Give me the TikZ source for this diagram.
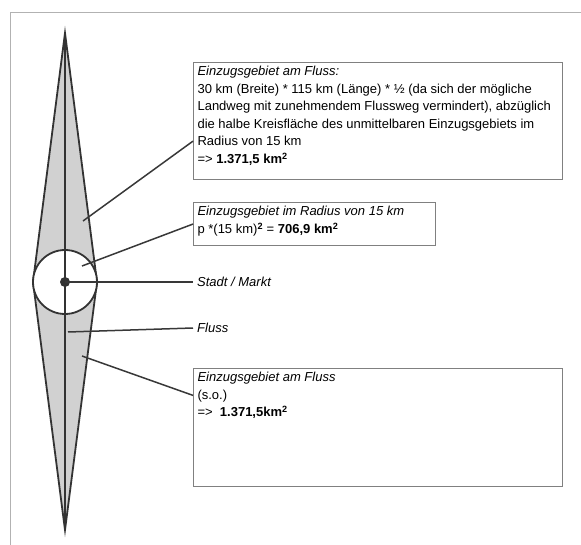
\documentclass[tikz,border=0pt]{standalone}
\usepackage{fontspec}
\setmainfont{Liberation Sans}
\usetikzlibrary{calc}

\newcommand{\infotext}[3]{\parbox[t][#1][t]{#2}{\raggedright #3}}

\begin{document}
\begin{tikzpicture}[
      x=1pt, y=-1pt,
      font=\fontsize{13}{17.5}\selectfont,
      infobox/.style={draw=black!50, line width=1.1pt, anchor=north west,
                      inner xsep=4pt, inner ysep=4pt},
      tag/.style={anchor=west, inner xsep=4pt, inner ysep=0pt, font=\fontsize{13}{17.5}\selectfont\itshape},
      leader/.style={draw=black!78, line width=1.5pt},
      outline/.style={draw=black!80, line width=1.8pt},
    ]
    \useasboundingbox (0,0) rectangle (581,545);
    % frame
    \draw[black!30, line width=0.8pt] (10,545) -- (10,12) -- (581,12);

    % catchment along the river, circle round the town
    \fill[black!18] (65,33) -- (97,282) -- (65,530) -- (33,282) -- cycle;
    \draw[outline] (65,33) -- (97,282) -- (65,530) -- (33,282) -- cycle;
    \filldraw[outline, fill=white] (65,282) circle (32);
    \draw[outline] (65,33) -- (65,530);
    \fill[black!80] (65,282) circle (5);

    % start points of the leaders
    \coordinate (up) at (83,221);
    \coordinate (ring) at (82,266);
    \coordinate (town) at (65,282);
    \coordinate (river) at (68,332);
    \coordinate (down) at (82,356);

    % text boxes
    \node[infobox] (upper) at (193,62) {\infotext{109pt}{361pt}{%
      \textit{Einzugsgebiet am Fluss:}\\
      30 km (Breite) * 115 km (Länge) * ½ (da sich der mögliche\\
      Landweg mit zunehmendem Flussweg vermindert), abzüglich\\
      die halbe Kreisfläche des unmittelbaren Einzugsgebiets im\\
      Radius von 15 km\\
      => \textbf{1.371,5 km\textsuperscript{2}}}};
    \node[infobox] (radius) at (193,202) {\infotext{35pt}{234pt}{%
      \textit{Einzugsgebiet im Radius von 15 km}\\
      p *(15 km)\textsuperscript{\textbf{2}} = \textbf{706,9 km\textsuperscript{2}}}};
    \node[tag] (stadt) at (193,282) {Stadt / Markt};
    \node[tag] (fluss) at (193,328) {Fluss};
    \node[infobox] (lower) at (193,368) {\infotext{110pt}{361pt}{%
      \textit{Einzugsgebiet am Fluss}\\
      (s.o.)\\
      =>\ \ \textbf{1.371,5km\textsuperscript{2}}}};

    % leaders
    \draw[leader] (up) -- ($(upper.north west)!0.67!(upper.south west)$);
    \draw[leader] (ring) -- (radius.west);
    \draw[leader] (town) -- (stadt.west);
    \draw[leader] (river) -- (fluss.west);
    \draw[leader] (down) -- ($(lower.north west)!0.23!(lower.south west)$);
  \end{tikzpicture}
\end{document}
